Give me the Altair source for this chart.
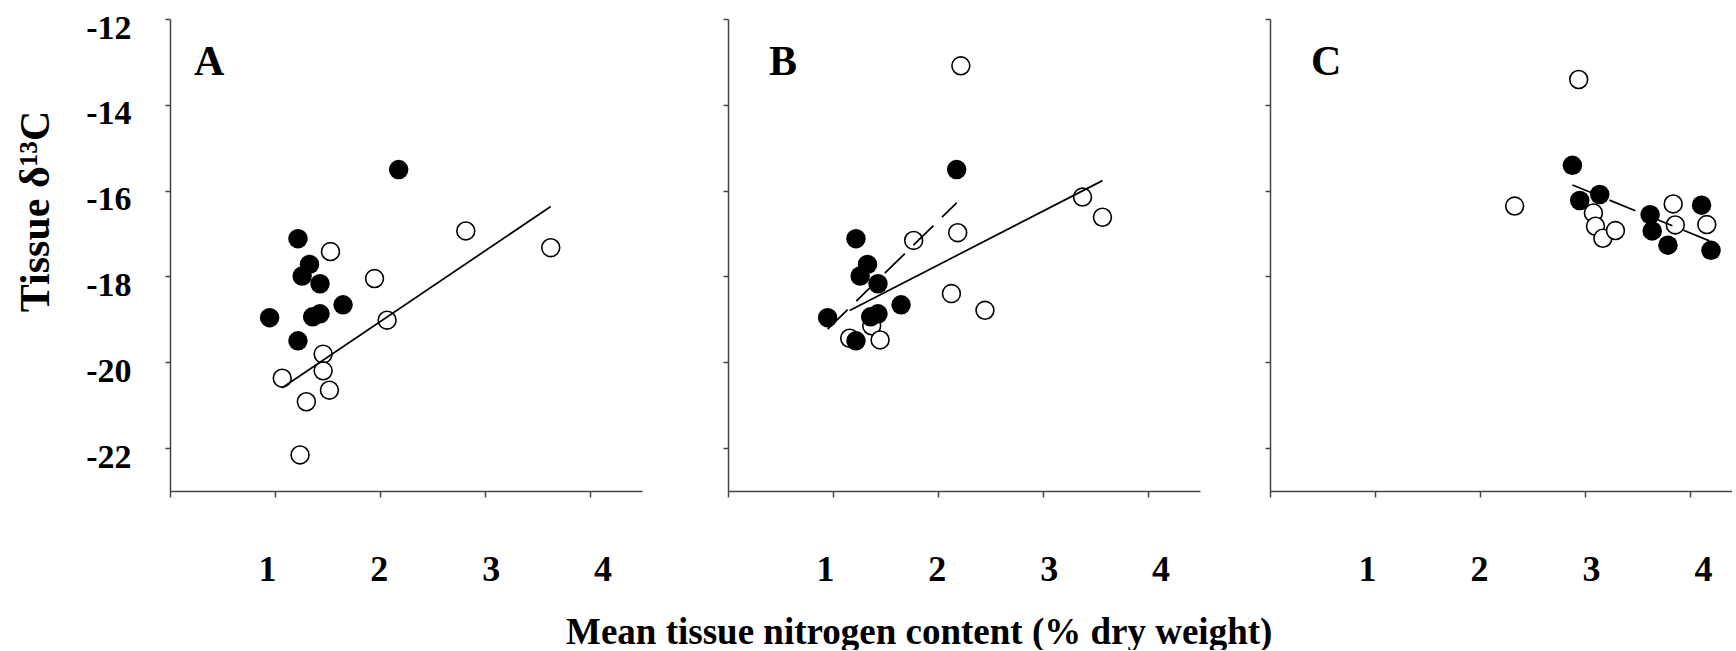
import altair as alt
import pandas as pd

# Tissue N (% dry weight) and d13C for filled symbols, shared by panels A and B
filled_ab_n = [0.95, 1.22, 1.26, 1.33, 1.36, 1.43, 1.43, 1.65, 2.18, 1.22]
filled_ab_c = [-18.96, -17.12, -17.99, -17.72, -18.94, -18.17, -18.87, -18.66, -15.51, -19.50]

# Open symbols, panel A
open_a_n = [1.07, 1.24, 1.30, 1.46, 1.46, 1.52, 1.53, 1.95, 2.07, 2.82, 3.63]
open_a_c = [-20.37, -22.16, -20.92, -19.81, -20.20, -20.65, -17.42, -18.05, -19.02, -16.94, -17.33]

# Open symbols, panel B
open_b_n = [1.16, 1.37, 1.45, 1.77, 2.13, 2.19, 2.22, 2.45, 3.38, 3.57]
open_b_c = [-19.44, -19.15, -19.48, -17.16, -18.40, -16.98, -13.09, -18.79, -16.15, -16.62]

# Panel C
filled_c_n = [2.88, 2.95, 3.14, 3.62, 3.64, 3.79, 4.11, 4.20]
filled_c_c = [-15.41, -16.23, -16.09, -16.56, -16.94, -17.27, -16.34, -17.39]
open_c_n = [2.33, 2.94, 3.08, 3.10, 3.17, 3.29, 3.84, 3.86, 4.16]
open_c_c = [-16.36, -13.41, -16.52, -16.83, -17.11, -16.93, -16.31, -16.80, -16.79]

y_ticks = [-22, -20, -18, -16, -14, -12]
x_ticks = [0, 1, 2, 3, 4]

series = [
    ("A", "filled", filled_ab_n, filled_ab_c),
    ("A", "open", open_a_n, open_a_c),
    ("B", "filled", filled_ab_n, filled_ab_c),
    ("B", "open", open_b_n, open_b_c),
    ("C", "filled", filled_c_n, filled_c_c),
    ("C", "open", open_c_n, open_c_c),
]
rows = []
for panel, group, ns, cs in series:
    for n, c in zip(ns, cs):
        rows.append({"panel": panel, "group": group, "n": n, "d13c": c})
df = pd.DataFrame(rows)

FONT = "Liberation Serif"
H = 472

x_label_shift = {
    "condition": [
        {"test": "datum.value == 1", "value": -8},
        {"test": "datum.value == 3", "value": 6},
        {"test": "datum.value == 4", "value": 13},
    ],
    "value": -1,
}

axis_style = dict(
    domainColor="#444",
    domainWidth=1.5,
    tickColor="#444",
    tickWidth=1.5,
    labelFont=FONT,
    labelFontWeight="bold",
    labelColor="black",
    titleFont=FONT,
    titleFontWeight="bold",
    titleColor="black",
    grid=False,
)


def panel(name, width, xmax, letter_x, regressions, y_labels, x_title):
    base = alt.Chart(df).transform_filter(alt.datum.panel == name)
    x_axis_kw = dict(
        values=x_ticks,
        labelExpr="datum.value == 0 ? '' : datum.label",
        labelFontSize=36,
        labelPadding=83,
        labelBaseline="alphabetic",
        labelOffset=x_label_shift,
        tickSize=6,
        **axis_style,
    )
    if x_title:
        x_axis_kw.update(
            title="Mean tissue nitrogen content (% dry weight)",
            titleX=190.7,
            titleY=152,
            titleAlign="center",
            titleBaseline="alphabetic",
            titleFontSize=37,
        )
    else:
        x_axis_kw["title"] = None
    y_axis_kw = dict(values=y_ticks, tickSize=5, **axis_style)
    if y_labels:
        y_axis_kw.update(
            labelExpr="'' + datum.value",
            labelFontSize=34,
            labelPadding=34,
            labelOffset=9,
            title="Tissue δ¹³C",
            titleX=-122,
            titleY=192,
            titleAngle=270,
            titleAlign="center",
            titleBaseline="alphabetic",
            titleFontSize=42,
        )
    else:
        y_axis_kw.update(labels=False, title=None)

    x_enc = alt.X("n:Q", scale=alt.Scale(domain=[0, xmax], nice=False, zero=False),
                  axis=alt.Axis(**x_axis_kw))
    y_enc = alt.Y("d13c:Q", scale=alt.Scale(domain=[-23, -12], nice=False, zero=False),
                  axis=alt.Axis(**y_axis_kw))

    open_pts = base.transform_filter(alt.datum.group == "open").mark_circle(
        fill="white", stroke="black", strokeWidth=1.6, size=320, opacity=1
    ).encode(x=x_enc, y=y_enc)
    filled_pts = base.transform_filter(alt.datum.group == "filled").mark_circle(
        color="black", size=380, opacity=1
    ).encode(x=x_enc, y=y_enc)

    layers = [open_pts, filled_pts]
    for group, dash in regressions:
        line_kw = dict(color="black", strokeWidth=1.7)
        if dash:
            line_kw["strokeDash"] = [28, 12]
        fit = base.transform_filter(alt.datum.group == group).transform_regression(
            "n", "d13c"
        ).mark_line(**line_kw).encode(x=x_enc, y=y_enc)
        layers.append(fit)

    letter = alt.Chart(pd.DataFrame({"label": [name]})).mark_text(
        font=FONT, fontSize=42, fontWeight="bold", align="left",
        baseline="alphabetic", color="black"
    ).encode(x=alt.value(letter_x), y=alt.value(56), text="label:N")
    layers.append(letter)

    return alt.layer(*layers).properties(width=width, height=H)


panel_a = panel("A", 472, 4.5, 24, [("open", False)], True, False)
panel_b = panel("B", 472, 4.5, 41, [("open", False), ("filled", True)], False, True)
panel_c = panel("C", 462, 4.4, 41, [("filled", True)], False, False)

chart = alt.hconcat(
    panel_a,
    alt.hconcat(panel_b, panel_c, spacing=70, bounds="flush"),
    spacing=86,
    bounds="flush",
).properties(
    padding={"left": 14, "top": 11, "right": 0, "bottom": 0},
    background="white",
).configure_view(
    stroke=None
)

chart.save("out.html", embed_options={"renderer": "svg", "actions": False})
